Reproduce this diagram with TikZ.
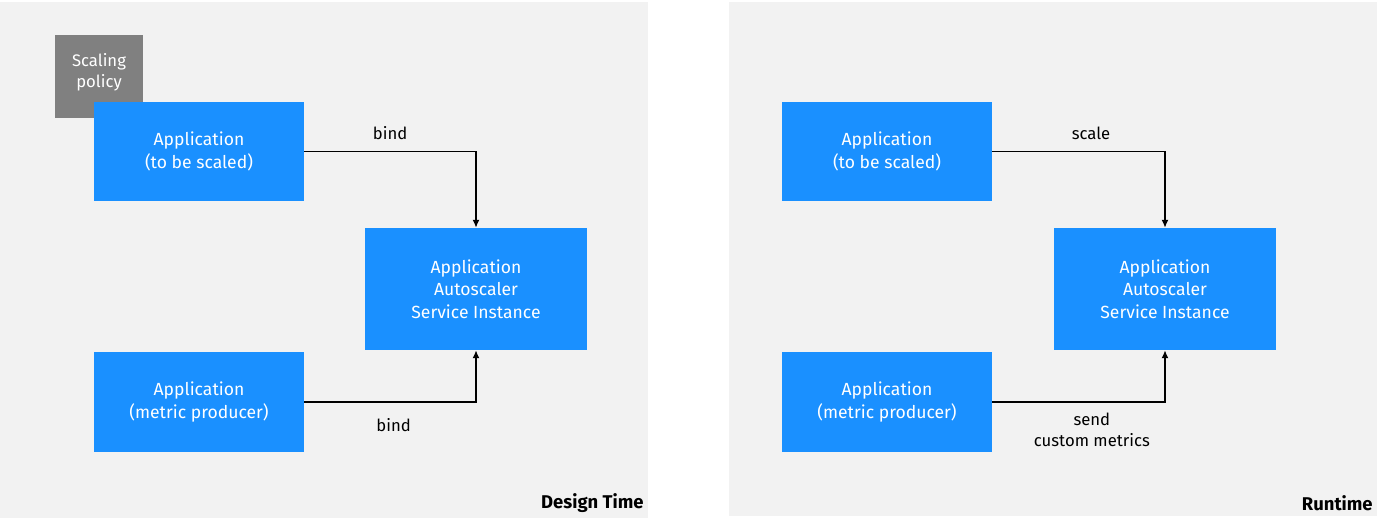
\documentclass[tikz,border=0pt]{standalone}
\usepackage{fontspec}
\setmainfont{Fira Sans}
\usetikzlibrary{arrows.meta}

\definecolor{appblue}{RGB}{26,144,255}
\definecolor{panelgray}{RGB}{242,242,242}
\definecolor{policygray}{RGB}{128,128,128}

\tikzset{
    appbox/.style={fill=appblue, text=white, align=center, inner sep=0pt,
        minimum width=4.2cm, minimum height=2cm, font=\fontsize{10}{12.8}\selectfont},
    scalerbox/.style={appbox, minimum width=4.44cm, minimum height=2.44cm},
    policybox/.style={fill=policygray, minimum width=1.76cm, minimum height=1.66cm, inner sep=0pt},
    policytext/.style={text=white, align=center, font=\fontsize{9.5}{12}\selectfont},
    conn/.style={draw=black, line width=0.7pt, -{Latex[length=4.5pt,width=4pt]}},
    lbl/.style={align=center, font=\fontsize{9.5}{12}\selectfont},
    paneltitle/.style={anchor=east, inner sep=0pt, font=\fontsize{10.5}{12}\selectfont\bfseries}
}

\begin{document}
\begin{tikzpicture}[x=0.02cm, y=-0.02cm]
        \useasboundingbox[fill=white] (0,0) rectangle (1385,526);

        % panels
        \fill[panelgray] (0,2) rectangle (648,518);
        \fill[panelgray] (729,2) rectangle (1377,516);

        % design time
        \node[policybox] (policy) at (99,76.5) {};
        \node[policytext] (policylbl) at (99,72) {Scaling\\policy};

        \node[appbox] (appA) at (199,151.5) {Application\\(to be scaled)};
        \node[appbox] (prodA) at (199,402) {Application\\(metric producer)};
        \node[scalerbox] (scalerA) at (476,289) {Application\\Autoscaler\\Service Instance};

        \draw[conn] (appA.east) -| node[lbl, pos=0.25, above=3pt] (bindA) {bind} (scalerA.north);
        \draw[conn] (prodA.east) -| node[lbl, pos=0.25, below=5.5pt, xshift=2pt] (bindB) {bind} (scalerA.south);

        \node[paneltitle] (design) at (644,503) {Design Time};

        % runtime
        \node[appbox] (appB) at (887,151.5) {Application\\(to be scaled)};
        \node[appbox] (prodB) at (887,402) {Application\\(metric producer)};
        \node[scalerbox] (scalerB) at (1165,289) {Application\\Autoscaler\\Service Instance};

        \draw[conn] (appB.east) -| node[lbl, pos=0.25, above=3pt, xshift=7pt] (scale) {scale} (scalerB.north);
        \draw[conn] (prodB.east) -| node[lbl, pos=0.25, below=2.5pt, xshift=7.5pt] (send) {send\\custom metrics} (scalerB.south);

        \node[paneltitle] (runtime) at (1373,503) {Runtime};
    \end{tikzpicture}
\end{document}
